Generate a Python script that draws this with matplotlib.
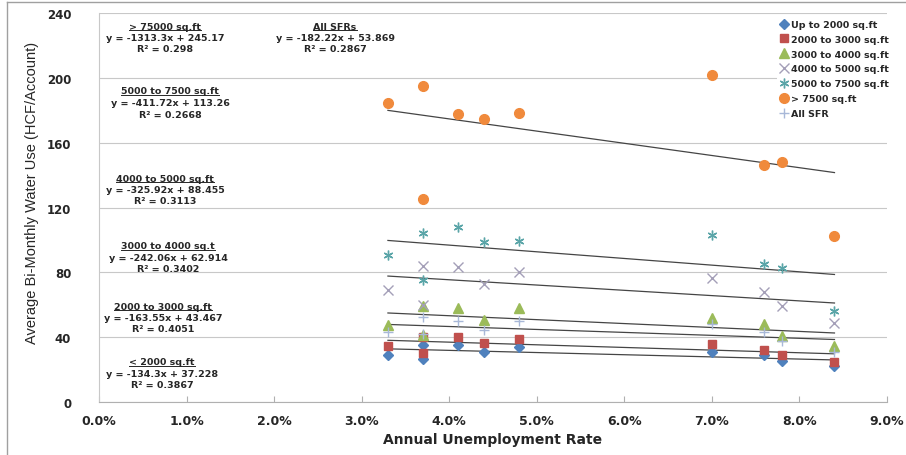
import numpy as np
import matplotlib.pyplot as plt
from matplotlib.lines import Line2D
from matplotlib.ticker import PercentFormatter

# Annual unemployment rate for each year in the record
rate = [0.033, 0.037, 0.037, 0.041, 0.044, 0.048, 0.070, 0.076, 0.078, 0.084]

# Average bi-monthly water use (HCF/account) by lot size
up_to_2000 = [29.0, 35.2, 26.5, 35.2, 30.7, 33.8, 31.0, 29.0, 25.5, 22.4]
s2000_3000 = [34.4, 40.3, 30.2, 39.9, 36.2, 38.9, 35.8, 32.3, 29.0, 24.9]
s3000_4000 = [47.7, 59.5, 41.4, 58.0, 50.6, 57.8, 51.7, 48.1, 40.9, 34.8]
s4000_5000 = [69.1, 83.8, 60.0, 83.3, 72.6, 80.0, 76.3, 67.7, 59.5, 48.6]
s5000_7500 = [90.9, 104.1, 75.5, 107.8, 98.6, 99.6, 103.0, 85.2, 82.5, 56.4]
over_7500 = [184.4, 194.9, 125.3, 177.8, 174.7, 178.6, 202.0, 146.5, 148.3, 102.7]
all_sfr = [43.0, 52.3, 42.0, 50.2, 44.6, 50.2, 48.0, 43.4, 37.9, 31.0]

series_names = ["Up to 2000 sq.ft", "2000 to 3000 sq.ft", "3000 to 4000 sq.ft",
                "4000 to 5000 sq.ft", "5000 to 7500 sq.ft", "> 7500 sq.ft", "All SFR"]
series_values = [up_to_2000, s2000_3000, s3000_4000, s4000_5000,
                 s5000_7500, over_7500, all_sfr]

# Trend equations reported for each group
fit_titles = ["< 2000 sq.ft", "2000 to 3000 sq.ft", "3000 to 4000 sq.t",
              "4000 to 5000 sq.ft", "5000 to 7500 sq.ft", "> 75000 sq.ft", "All SFRs"]
fit_slopes = [-134.3, -163.55, -242.06, -325.92, -411.72, -1313.3, -182.22]
fit_intercepts = [37.228, 43.467, 62.914, 88.455, 113.26, 245.17, 53.869]
fit_r2 = [0.3867, 0.4051, 0.3402, 0.3113, 0.2668, 0.298, 0.2867]

y_ticks = [0, 40, 80, 120, 160, 200, 240]
x_ticks = [0.00, 0.01, 0.02, 0.03, 0.04, 0.05, 0.06, 0.07, 0.08, 0.09]

# ---- styling ----
styles = [
    dict(marker="D", color="#4F81BD", ms=5.0, mec="#4F81BD"),
    dict(marker="s", color="#C0504D", ms=6.0, mec="#C0504D"),
    dict(marker="^", color="#9BBB59", ms=6.5, mec="#9BBB59"),
    dict(marker="x", color="#A49FB8", ms=6.5, mew=1.0),
    dict(marker=(6, 2, 0), color="#5AA5A8", ms=7.0, mew=1.0),
    dict(marker="o", color="#F08A3C", ms=7.0, mec="#F08A3C"),
    dict(marker="+", color="#A8B8D8", ms=7.0, mew=1.0),
]
W, H = 906, 456
fig = plt.figure(figsize=(W / 100, H / 100), dpi=100)
ax = fig.add_axes([99 / W, 1 - 403 / H, (887 - 99) / W, (403 - 14) / H])

x = np.array(rate)
handles = []
for name, vals, st in zip(series_names, series_values, styles):
    h, = ax.plot(x, vals, linestyle="none", label=name, zorder=3, **st)
    handles.append(h)

# Trend lines across the observed range of unemployment rates
xs = np.array([min(rate), max(rate)])
trend_order = [0, 1, 2, 3, 4, 6]
for i in trend_order:
    ax.plot(xs, fit_slopes[i] * xs + fit_intercepts[i], color="#454545", lw=0.9, zorder=2)
# least-squares line of the largest lots
b1, b0 = np.polyfit(x, over_7500, 1)
ax.plot(xs, b1 * xs + b0, color="#454545", lw=0.9, zorder=2)

ax.set_xlim(0, 0.09)
ax.set_ylim(0, 240)
ax.set_xticks(x_ticks)
ax.set_yticks(y_ticks)
ax.xaxis.set_major_formatter(PercentFormatter(1.0, decimals=1))
ax.grid(axis="y", color="#C8C8C8", lw=0.8)
ax.set_axisbelow(True)
for s in ["top", "right"]:
    ax.spines[s].set_visible(False)
ax.spines["left"].set_color("#C8C8C8")
ax.spines["bottom"].set_color("#B0B0B0")
ax.tick_params(axis="x", direction="in", length=4, color="#B0B0B0", pad=9,
               labelsize=9)
ax.tick_params(axis="y", length=0, pad=20, labelsize=8.5)
for lab in ax.get_xticklabels() + ax.get_yticklabels():
    lab.set_fontweight("bold")
    lab.set_color("#262626")

ax.set_xlabel("Annual Unemployment Rate", fontsize=10, fontweight="bold",
              color="#262626", labelpad=3)
fig.text(32 / W, 1 - 193 / H, "Average Bi-Monthly Water Use (HCF/Account)",
         rotation=90, ha="center", va="center", fontsize=10.5,
         family=["Liberation Sans", "DejaVu Sans"], color="#262626")

# Equation blocks: (index into fit lists, centre x px, title y px)
blocks = [(5, 165, 27), (6, 335, 27), (4, 170, 92), (3, 165, 179),
          (2, 168, 247), (1, 163, 307), (0, 162, 363)]
title_texts = []
for i, cx, ty in blocks:
    kw = dict(ha="center", va="center", fontsize=6.8, fontweight="bold", color="#262626")
    t = fig.text(cx / W, 1 - ty / H, fit_titles[i], **kw)
    title_texts.append(t)
    sign = "+" if fit_intercepts[i] >= 0 else "-"
    eq = f"y = {fit_slopes[i]:.5g}x {sign} {abs(fit_intercepts[i]):.5g}"
    fig.text(cx / W, 1 - (ty + 11.5) / H, eq, **kw)
    fig.text(cx / W, 1 - (ty + 23) / H, f"R\u00b2 = {fit_r2[i]:.4g}", **kw)

leg = ax.legend(handles=handles, loc="upper left",
                bbox_to_anchor=(777 / W, 1 - 18 / H), bbox_transform=fig.transFigure,
                fontsize=6.8, frameon=True, facecolor="white", edgecolor="none",
                framealpha=1, handlelength=0.9, handletextpad=0.25,
                labelspacing=0.62, borderpad=0.3, borderaxespad=0)
for t in leg.get_texts():
    t.set_fontweight("bold")
    t.set_color("#262626")

# Underline the equation titles
fig.canvas.draw()
renderer = fig.canvas.get_renderer()
inv = fig.transFigure.inverted()
for t in title_texts:
    bb = t.get_window_extent(renderer)
    (x0, y0), (x1, _) = inv.transform([(bb.x0, bb.y0 + 0.5), (bb.x1, bb.y0)])
    fig.add_artist(Line2D([x0, x1], [y0, y0], transform=fig.transFigure,
                          color="#262626", lw=0.7))

# Chart border
fig.add_artist(Line2D([7 / W, 7 / W], [0, 1 - 3 / H], transform=fig.transFigure,
                      color="#A0A0A0", lw=1.0))
fig.add_artist(Line2D([7 / W, 1], [1 - 3 / H, 1 - 3 / H], transform=fig.transFigure,
                      color="#A0A0A0", lw=1.0))

fig.savefig("out.png", dpi=100)
